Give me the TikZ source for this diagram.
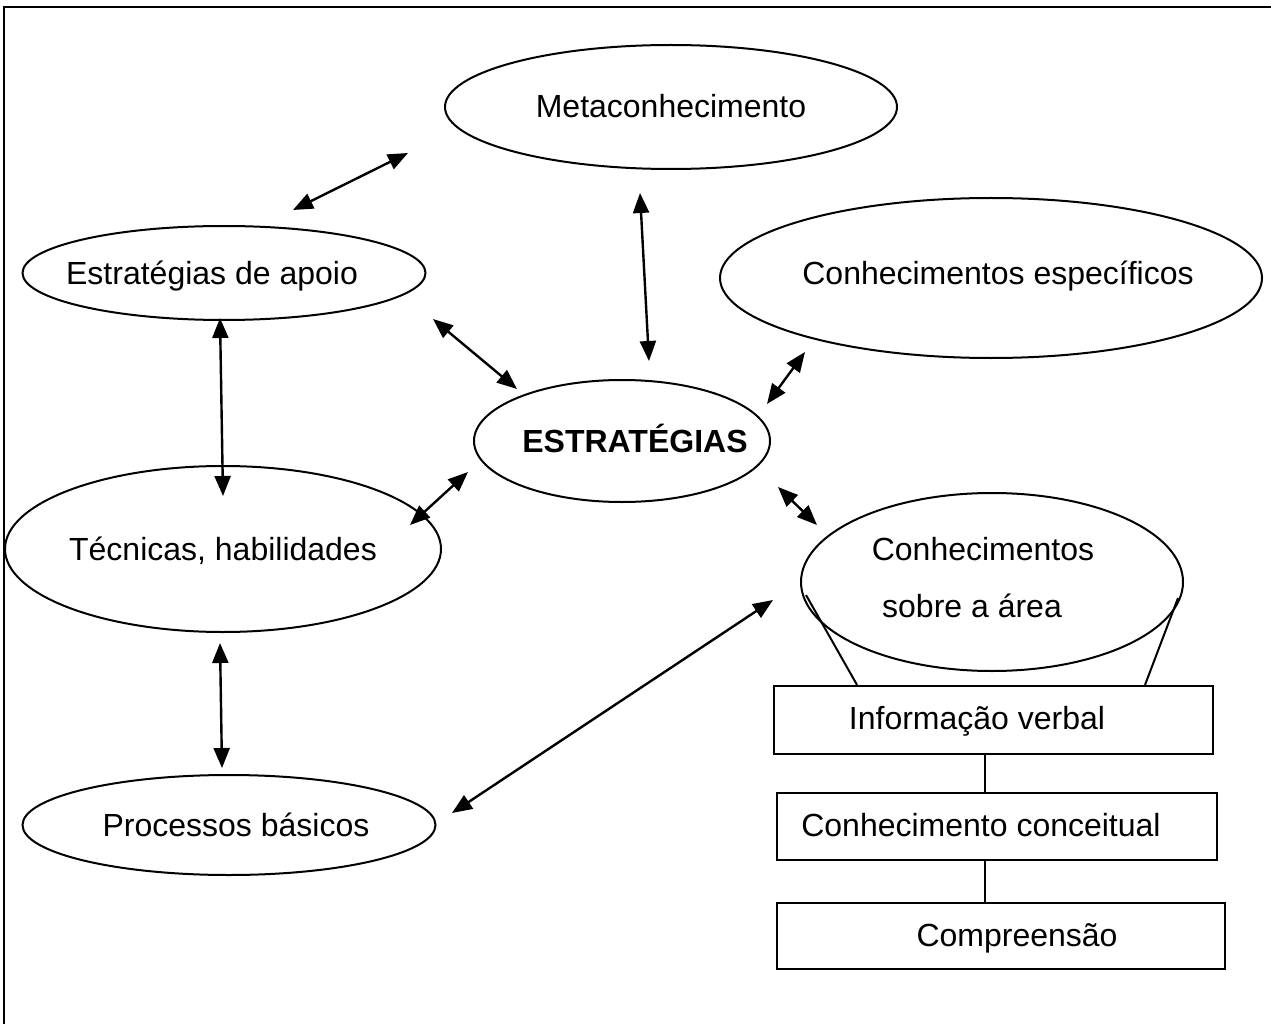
\documentclass[tikz,border=0pt]{standalone}
\usepackage{fontspec}
\setmainfont{Liberation Sans}
\usetikzlibrary{shapes.geometric,arrows.meta}
\begin{document}
\begin{tikzpicture}[x=1pt,y=-1pt,
  every node/.style={font=\fontsize{32}{38}\selectfont},
  oval/.style={draw,ellipse,line width=2pt,inner sep=0pt},
  boxn/.style={draw,rectangle,line width=2.2pt,inner sep=0pt},
  txt/.style={inner sep=0pt,anchor=base},
  link/.style={line width=2.4pt,{Triangle[length=20pt,width=16pt]}-{Triangle[length=20pt,width=16pt]}},
  plain/.style={line width=2pt}]
\useasboundingbox (0,0) rectangle (1271,1024);
% frame
\draw[line width=2.8pt] (1271,7) -- (4,7) -- (4,1024);
% ellipses
\node[oval,minimum width=452pt,minimum height=124pt] (meta) at (671,107) {};
\node[oval,minimum width=403pt,minimum height=94pt] (apoio) at (224,273) {};
\node[oval,minimum width=542pt,minimum height=160pt] (espec) at (991,278) {};
\node[oval,minimum width=296pt,minimum height=122pt] (estr) at (622,441) {};
\node[oval,minimum width=436pt,minimum height=166pt] (tecn) at (223,549) {};
\node[oval,minimum width=382pt,minimum height=178pt] (area) at (992,582) {};
\node[oval,minimum width=413pt,minimum height=100pt] (proc) at (229,825) {};
% ellipse texts
\node[txt] (tmeta) at (671,118) {Metaconhecimento};
\node[txt] (tapoio) at (212,284) {Estratégias de apoio};
\node[txt] (tespec) at (998,284) {Conhecimentos específicos};
\node[txt] (testr) at (635,452) {\bfseries ESTRATÉGIAS};
\node[txt] (ttecn) at (223,560) {Técnicas, habilidades};
\node[txt] (tarea1) at (983,560) {Conhecimentos};
\node[txt] (tarea2) at (972,617) {sobre a área};
\node[txt] (tproc) at (236,836) {Processos básicos};
% boxes
\node[boxn,minimum width=439pt,minimum height=68pt] (info) at (993.5,720) {};
\node[boxn,minimum width=440pt,minimum height=67pt] (conc) at (997,826.5) {};
\node[boxn,minimum width=448pt,minimum height=66pt] (comp) at (1001,936) {};
\node[txt] (tinfo) at (977,729) {Informação verbal};
\node[txt] (tconc) at (981,836) {Conhecimento conceitual};
\node[txt] (tcomp) at (1017,946) {Compreensão};
% box connectors
\draw[plain] (info.south -| 985,0) -- (conc.north -| 985,0);
\draw[plain] (conc.south -| 985,0) -- (comp.north -| 985,0);
% funnel lines
\coordinate (fl) at (806,595);
\coordinate (fr) at (1178,598);
\draw[plain] (fl) -- (info.north -| 857,0);
\draw[plain] (fr) -- (info.north -| 1145,0);
% arrow end points
\coordinate (a1) at (293,210); \coordinate (b1) at (408,153);
\coordinate (a2) at (640,193); \coordinate (b2) at (649,361);
\coordinate (a3) at (433,319); \coordinate (b3) at (517,389);
\coordinate (a4) at (805,352); \coordinate (b4) at (767,404);
\coordinate (a5) at (220,318); \coordinate (b5) at (223,496);
\coordinate (a6) at (410,525); \coordinate (b6) at (468,472);
\coordinate (a7) at (778,487); \coordinate (b7) at (817,525);
\coordinate (a8) at (220,643); \coordinate (b8) at (222,768);
\coordinate (a9) at (452,813); \coordinate (b9) at (773,600);
\foreach \i in {1,...,9}{\draw[link] (a\i) -- (b\i);}
\end{tikzpicture}
\end{document}
